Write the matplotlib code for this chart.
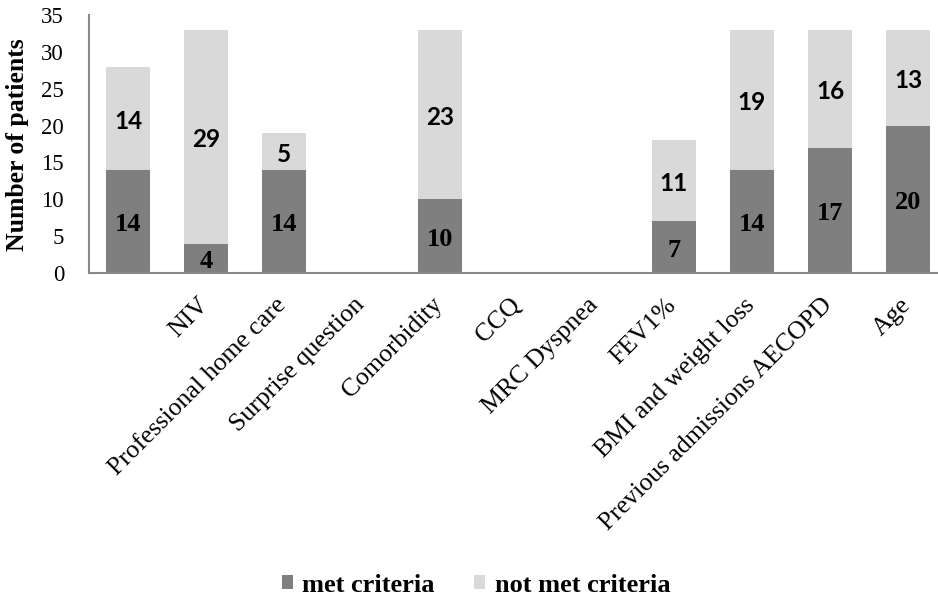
import matplotlib
matplotlib.use("Agg")
import matplotlib.pyplot as plt
from matplotlib.patches import Patch
from matplotlib.transforms import offset_copy
import numpy as np

# Criteria assessed per patient group
categories = ["", "NIV", "Professional home care", "Surprise question", "Comorbidity",
              "CCQ", "MRC Dyspnea", "FEV1%", "BMI and weight loss",
              "Previous admissions AECOPD", "Age"]
met = [14, 4, 14, 0, 10, 0, 0, 7, 14, 17, 20]
not_met = [14, 29, 5, 0, 23, 0, 0, 11, 19, 16, 13]
y_ticks = [0, 5, 10, 15, 20, 25, 30, 35]

dark = "#7f7f7f"
light = "#d9d9d9"
axis_grey = "#898989"
serif = "Liberation Serif"
sans = "Lato"

W, H = 938, 600
fig = plt.figure(figsize=(W / 100, H / 100), dpi=100)
ax = fig.add_axes([89 / W, 1 - 273 / H, 858 / W, 258 / H])

x = np.arange(len(categories))
bw = 0.57
ax.bar(x, met, bw, color=dark, zorder=2)
ax.bar(x, not_met, bw, bottom=met, color=light, zorder=2)

# value labels sit slightly below the geometric middle of each segment
label_tf = offset_copy(ax.transData, fig=fig, x=0, y=-3, units="dots")
for xi, m, n in zip(x, met, not_met):
    if m > 0:
        ax.text(xi, m / 2, str(m), ha="center", va="center", fontsize=19,
                fontweight="bold", family=serif, color="black", zorder=3,
                transform=label_tf)
    if n > 0:
        ax.text(xi, m + n / 2, str(n), ha="center", va="center", fontsize=17.5,
                fontweight="bold", family=sans, color="black", zorder=3,
                transform=label_tf)

ax.set_xlim(-0.5, len(categories) - 0.5)
ax.set_ylim(0, 35)
ax.set_yticks(y_ticks)
ax.set_yticklabels([str(t) for t in y_ticks], family=serif, fontsize=16.5)
ax.tick_params(axis="y", length=0, pad=18)

ax.set_xticks(x)
ax.set_xticklabels(categories, rotation=45, ha="right", va="top",
                   family=serif, fontsize=18.5)
ax.tick_params(axis="x", length=0, pad=15)
for lab in ax.get_xticklabels():
    lab.set_transform(offset_copy(lab.get_transform(), fig=fig, x=7, y=0, units="dots"))

for side in ("top", "right"):
    ax.spines[side].set_visible(False)
for side in ("left", "bottom"):
    ax.spines[side].set_color(axis_grey)
    ax.spines[side].set_linewidth(1.5)

fig.text(18 / W, 1 - 145 / H, "Number of patients", rotation=90, ha="center",
         va="center", family=serif, fontsize=18.5, fontweight="bold")

handles = [Patch(facecolor=dark, edgecolor="none", label="met criteria"),
           Patch(facecolor=light, edgecolor="none", label="not met criteria")]
fig.legend(handles=handles, loc="center", bbox_to_anchor=(476 / W, 1 - 585 / H),
           ncol=2, frameon=False, handlelength=0.42, handleheight=0.42,
           handletextpad=0.35, columnspacing=1.5,
           prop={"family": serif, "size": 19, "weight": "bold"})

fig.savefig("out.png", dpi=100)
